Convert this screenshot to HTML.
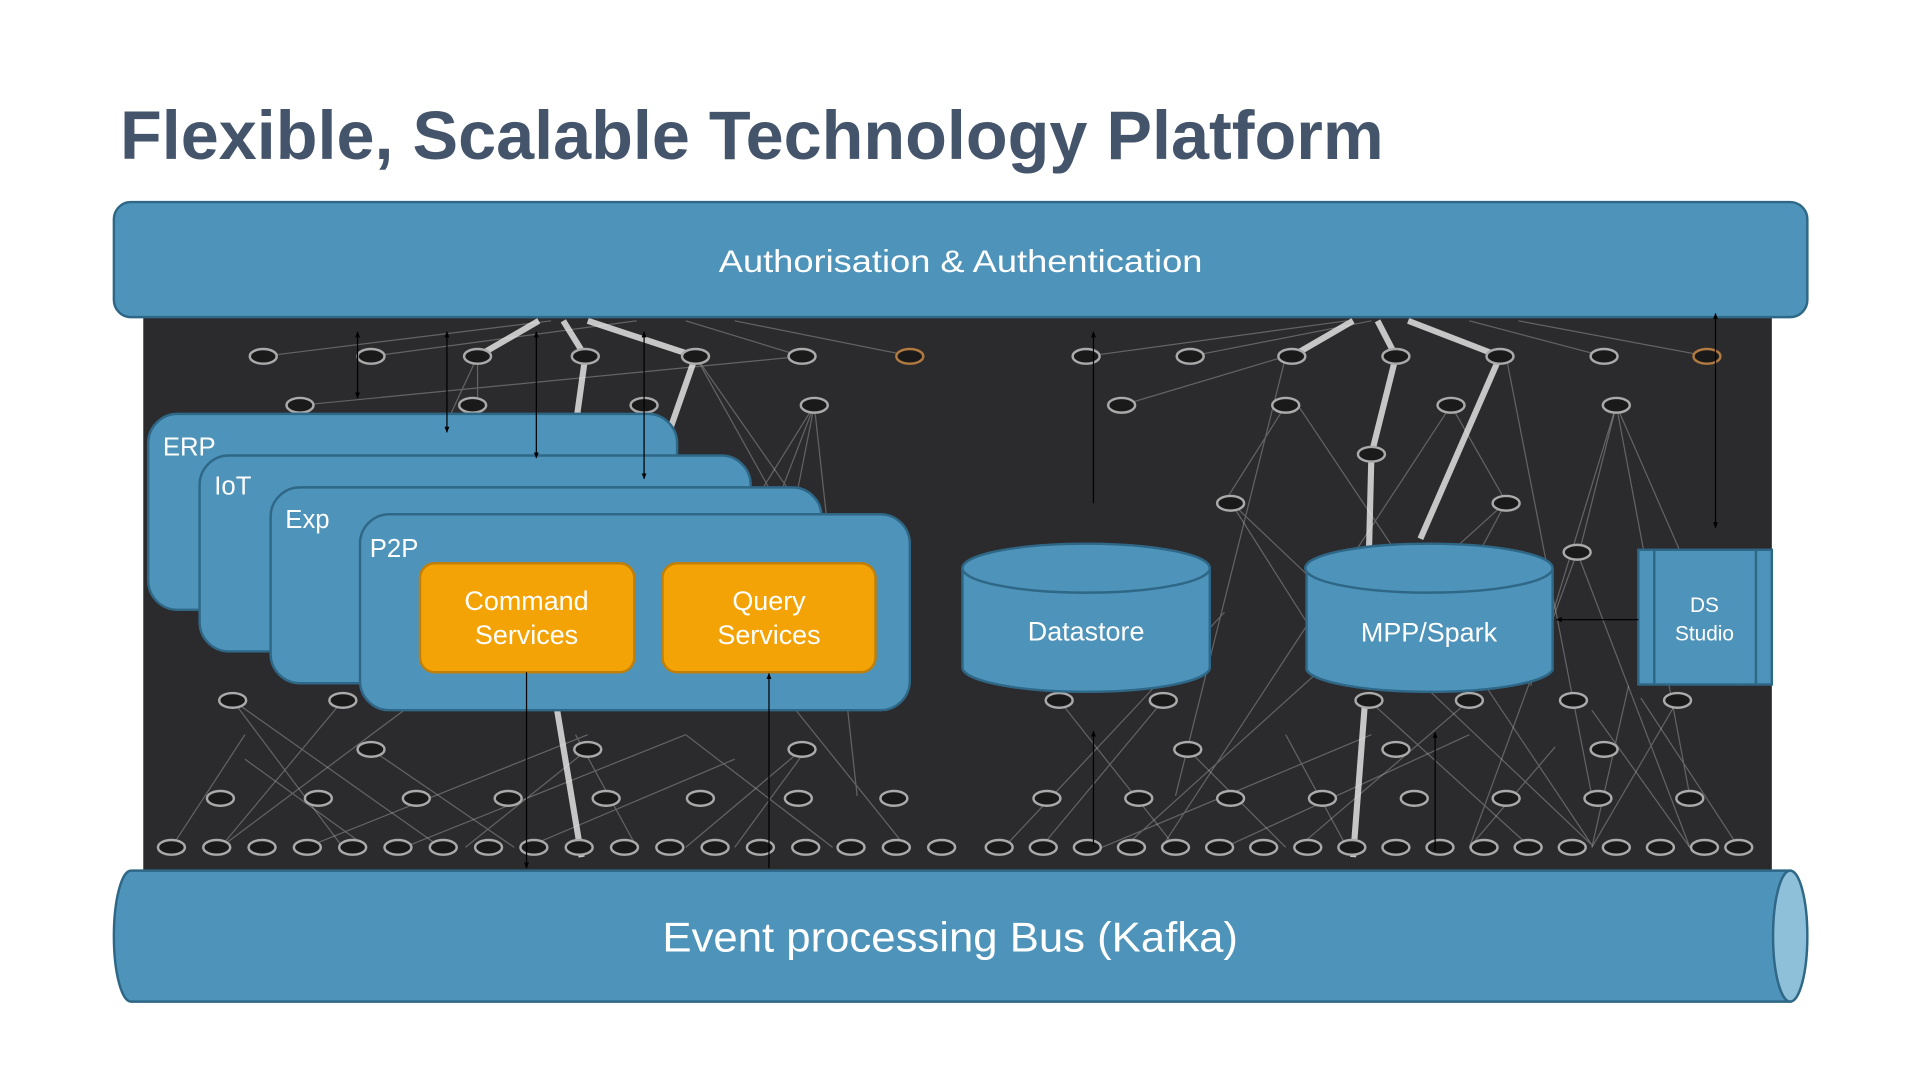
<!DOCTYPE html>
<html><head><meta charset="utf-8"><style>
html,body{margin:0;padding:0;background:#fff;width:1920px;height:1080px;overflow:hidden}
svg{display:block}
text{font-family:"Liberation Sans",sans-serif}
</style></head><body>
<svg width="1920" height="1080" viewBox="0 0 1568 882" xmlns="http://www.w3.org/2000/svg">
<defs>
<marker id="a" viewBox="0 0 10 10" refX="9" refY="5" markerWidth="5" markerHeight="5" orient="auto-start-reverse"><path d="M0,1 L10,5 L0,9 z" fill="#000"/></marker>
</defs>
<text x="98" y="130" font-size="56" font-weight="bold" fill="#44546a" textLength="1032" lengthAdjust="spacingAndGlyphs">Flexible, Scalable Technology Platform</text>

<rect x="117" y="255" width="1330" height="460" fill="#2b2a2c"/>
<g stroke="#cfcfcf" stroke-opacity="0.35" stroke-width="1" fill="none">
<path d="M215,291 L450,262 M303,291 L520,262 M655,291 L560,262 M745,291 L600,262 M245,331 L655,291 M390,291 L390,331 M390,291 L330,420 M568,291 L640,420 M665,331 L560,500 M665,331 L700,650 M180,692 L330,580 M250,692 L480,600 M330,692 L560,600 M430,692 L600,620 M520,692 L470,600 M600,692 L660,610 M680,692 L560,600 M740,692 L650,580 M140,692 L200,600 M300,692 L200,620"/>
<path d="M887,291 L1100,262 M972,291 L1120,262 M1310,291 L1200,262 M1395,291 L1240,262 M916,331 L1050,291 M1050,331 L1000,410 M1185,331 L1230,410 M1320,331 L1290,450 M1320,331 L1380,650 M1050,291 L960,650 M1230,291 L1300,650 M820,692 L1000,500 M900,692 L1120,600 M1000,692 L1200,600 M1100,692 L1050,600 M1200,692 L1270,610 M1300,692 L1330,560 M1380,692 L1300,580 M1420,692 L1340,570 M1060,331 L1300,690 M1185,331 L950,690 M1005,410 L1300,690 M1230,410 L920,690"/>
<path d="M665,331 L600,500 M665,331 L620,560 M568,291 L700,480 M190,572 L280,692 M280,572 L180,692 M303,612 L420,692 M480,612 L380,692 M655,612 L560,692 M190,572 L360,692 M1320,331 L1250,560 M1320,331 L1420,560 M1005,410 L1100,560 M1230,410 L1150,560 M1288,451 L1380,692 M1288,451 L1200,692 M865,572 L960,692 M950,572 L850,692 M1118,572 L1250,692 M1200,572 L1060,692 M1370,572 L1300,692 M970,612 L1050,692"/>
</g>
<g stroke="#eee" stroke-opacity="0.8" stroke-width="5" fill="none">
<path d="M390,291 L440,262 M478,291 L460,262 M568,291 L480,262 M478,291 L460,420 M568,291 L530,400 M455,580 L475,700"/>
<path d="M1055,291 L1105,262 M1140,291 L1125,262 M1225,291 L1150,262 M1120,371 L1140,291 M1160,440 L1225,291 M1120,371 L1118,450 M1115,570 L1105,700"/>
</g>
<g fill="#1a1a1a" stroke="#aaa" stroke-width="2">
<ellipse cx="215" cy="291" rx="11" ry="6"/><ellipse cx="303" cy="291" rx="11" ry="6"/><ellipse cx="390" cy="291" rx="11" ry="6"/><ellipse cx="478" cy="291" rx="11" ry="6"/><ellipse cx="568" cy="291" rx="11" ry="6"/><ellipse cx="655" cy="291" rx="11" ry="6"/>
<ellipse cx="245" cy="331" rx="11" ry="6"/><ellipse cx="386" cy="331" rx="11" ry="6"/><ellipse cx="526" cy="331" rx="11" ry="6"/><ellipse cx="665" cy="331" rx="11" ry="6"/>
<ellipse cx="887" cy="291" rx="11" ry="6"/><ellipse cx="972" cy="291" rx="11" ry="6"/><ellipse cx="1055" cy="291" rx="11" ry="6"/><ellipse cx="1140" cy="291" rx="11" ry="6"/><ellipse cx="1225" cy="291" rx="11" ry="6"/><ellipse cx="1310" cy="291" rx="11" ry="6"/>
<ellipse cx="916" cy="331" rx="11" ry="6"/><ellipse cx="1050" cy="331" rx="11" ry="6"/><ellipse cx="1185" cy="331" rx="11" ry="6"/><ellipse cx="1320" cy="331" rx="11" ry="6"/>
<ellipse cx="1005" cy="411" rx="11" ry="6"/><ellipse cx="1230" cy="411" rx="11" ry="6"/><ellipse cx="1120" cy="371" rx="11" ry="6"/><ellipse cx="1288" cy="451" rx="11" ry="6"/>
<ellipse cx="190" cy="572" rx="11" ry="6"/><ellipse cx="280" cy="572" rx="11" ry="6"/><ellipse cx="180" cy="652" rx="11" ry="6"/><ellipse cx="260" cy="652" rx="11" ry="6"/><ellipse cx="340" cy="652" rx="11" ry="6"/><ellipse cx="415" cy="652" rx="11" ry="6"/><ellipse cx="495" cy="652" rx="11" ry="6"/><ellipse cx="572" cy="652" rx="11" ry="6"/><ellipse cx="652" cy="652" rx="11" ry="6"/><ellipse cx="730" cy="652" rx="11" ry="6"/><ellipse cx="303" cy="612" rx="11" ry="6"/><ellipse cx="480" cy="612" rx="11" ry="6"/><ellipse cx="655" cy="612" rx="11" ry="6"/>
<ellipse cx="865" cy="572" rx="11" ry="6"/><ellipse cx="950" cy="572" rx="11" ry="6"/><ellipse cx="1118" cy="572" rx="11" ry="6"/><ellipse cx="1200" cy="572" rx="11" ry="6"/><ellipse cx="1285" cy="572" rx="11" ry="6"/><ellipse cx="1370" cy="572" rx="11" ry="6"/>
<ellipse cx="970" cy="612" rx="11" ry="6"/><ellipse cx="1140" cy="612" rx="11" ry="6"/><ellipse cx="1310" cy="612" rx="11" ry="6"/>
<ellipse cx="855" cy="652" rx="11" ry="6"/><ellipse cx="930" cy="652" rx="11" ry="6"/><ellipse cx="1005" cy="652" rx="11" ry="6"/><ellipse cx="1080" cy="652" rx="11" ry="6"/><ellipse cx="1155" cy="652" rx="11" ry="6"/><ellipse cx="1230" cy="652" rx="11" ry="6"/><ellipse cx="1305" cy="652" rx="11" ry="6"/><ellipse cx="1380" cy="652" rx="11" ry="6"/>
</g>
<g fill="#1a1a1a" stroke="#aaa" stroke-width="2">
<ellipse cx="140" cy="692" rx="11" ry="6"/><ellipse cx="177" cy="692" rx="11" ry="6"/><ellipse cx="214" cy="692" rx="11" ry="6"/><ellipse cx="251" cy="692" rx="11" ry="6"/><ellipse cx="288" cy="692" rx="11" ry="6"/><ellipse cx="325" cy="692" rx="11" ry="6"/><ellipse cx="362" cy="692" rx="11" ry="6"/><ellipse cx="399" cy="692" rx="11" ry="6"/><ellipse cx="436" cy="692" rx="11" ry="6"/><ellipse cx="473" cy="692" rx="11" ry="6"/><ellipse cx="510" cy="692" rx="11" ry="6"/><ellipse cx="547" cy="692" rx="11" ry="6"/><ellipse cx="584" cy="692" rx="11" ry="6"/><ellipse cx="621" cy="692" rx="11" ry="6"/><ellipse cx="658" cy="692" rx="11" ry="6"/><ellipse cx="695" cy="692" rx="11" ry="6"/><ellipse cx="732" cy="692" rx="11" ry="6"/><ellipse cx="769" cy="692" rx="11" ry="6"/>
<ellipse cx="816" cy="692" rx="11" ry="6"/><ellipse cx="852" cy="692" rx="11" ry="6"/><ellipse cx="888" cy="692" rx="11" ry="6"/><ellipse cx="924" cy="692" rx="11" ry="6"/><ellipse cx="960" cy="692" rx="11" ry="6"/><ellipse cx="996" cy="692" rx="11" ry="6"/><ellipse cx="1032" cy="692" rx="11" ry="6"/><ellipse cx="1068" cy="692" rx="11" ry="6"/><ellipse cx="1104" cy="692" rx="11" ry="6"/><ellipse cx="1140" cy="692" rx="11" ry="6"/><ellipse cx="1176" cy="692" rx="11" ry="6"/><ellipse cx="1212" cy="692" rx="11" ry="6"/><ellipse cx="1248" cy="692" rx="11" ry="6"/><ellipse cx="1284" cy="692" rx="11" ry="6"/><ellipse cx="1320" cy="692" rx="11" ry="6"/><ellipse cx="1356" cy="692" rx="11" ry="6"/><ellipse cx="1392" cy="692" rx="11" ry="6"/><ellipse cx="1420" cy="692" rx="11" ry="6"/>
</g>
<ellipse cx="743" cy="291" rx="11" ry="6" fill="#1a1a1a" stroke="#b07a40" stroke-width="2"/>
<ellipse cx="1394" cy="291" rx="11" ry="6" fill="#1a1a1a" stroke="#b07a40" stroke-width="2"/>

<rect x="93" y="165" width="1383" height="94" rx="14" fill="#4e93ba" stroke="#2f6787" stroke-width="2"/>
<text x="587" y="222" font-size="26" fill="#fff" textLength="395" lengthAdjust="spacingAndGlyphs">Authorisation &amp; Authentication</text>

<g stroke="#2f6787" stroke-width="2" fill="#4e93ba">
<rect x="121" y="338" width="432" height="160" rx="24"/>
<rect x="163" y="372" width="450" height="160" rx="24"/>
<rect x="221" y="398" width="450" height="160" rx="24"/>
<rect x="294" y="420" width="449" height="160" rx="24"/>
</g>
<g fill="#fff" font-size="21">
<text x="133" y="372">ERP</text><text x="175" y="404">IoT</text><text x="233" y="431">Exp</text><text x="302" y="455">P2P</text>
</g>
<rect x="343" y="460" width="175" height="89" rx="12" fill="#f3a305" stroke="#c07f08" stroke-width="2"/>
<rect x="541" y="460" width="174" height="89" rx="12" fill="#f3a305" stroke="#c07f08" stroke-width="2"/>
<g fill="#fff" font-size="22" text-anchor="middle">
<text x="430" y="498">Command</text><text x="430" y="526">Services</text>
<text x="628" y="498">Query</text><text x="628" y="526">Services</text>
</g>

<path d="M786,464 L786,545 A101,20 0 0 0 988,545 L988,464" fill="#4e93ba" stroke="#2f6787" stroke-width="2"/>
<ellipse cx="887" cy="464" rx="101" ry="20" fill="#4e93ba" stroke="#2f6787" stroke-width="2"/>
<text x="887" y="523" font-size="22" fill="#fff" text-anchor="middle">Datastore</text>
<path d="M1067,464 L1067,547 A101,20 0 0 0 1268,547 L1268,464" fill="#4e93ba" stroke="#2f6787" stroke-width="2"/>
<ellipse cx="1167" cy="464" rx="101" ry="20" fill="#4e93ba" stroke="#2f6787" stroke-width="2"/>
<text x="1167" y="524" font-size="22" fill="#fff" text-anchor="middle">MPP/Spark</text>
<rect x="1338" y="449" width="109" height="110" fill="#4e93ba" stroke="#2f6787" stroke-width="2"/>
<line x1="1351" y1="449" x2="1351" y2="559" stroke="#2f6787" stroke-width="2"/>
<line x1="1434" y1="449" x2="1434" y2="559" stroke="#2f6787" stroke-width="2"/>
<g fill="#fff" font-size="17" text-anchor="middle"><text x="1392" y="500">DS</text><text x="1392" y="523">Studio</text></g>

<path d="M107,711 L1462,711 L1462,818 L107,818 A14,53.5 0 0 1 107,711 z" fill="#4e93ba" stroke="#2f6787" stroke-width="2"/>
<ellipse cx="1462" cy="764.5" rx="14" ry="53.5" fill="#8fc0da" stroke="#2f6787" stroke-width="2"/>
<text x="541" y="777" font-size="34" fill="#fff" textLength="470" lengthAdjust="spacingAndGlyphs">Event processing Bus (Kafka)</text>

<g stroke="#000" stroke-width="1" fill="none">
<line x1="292" y1="271" x2="292" y2="325" marker-start="url(#a)" marker-end="url(#a)"/>
<line x1="365" y1="271" x2="365" y2="353" marker-start="url(#a)" marker-end="url(#a)"/>
<line x1="438" y1="271" x2="438" y2="374" marker-start="url(#a)" marker-end="url(#a)"/>
<line x1="526" y1="271" x2="526" y2="391" marker-start="url(#a)" marker-end="url(#a)"/>
<line x1="893" y1="411" x2="893" y2="271" marker-end="url(#a)"/>
<line x1="1401" y1="256" x2="1401" y2="431" marker-start="url(#a)" marker-end="url(#a)"/>
<line x1="430" y1="549" x2="430" y2="709" marker-end="url(#a)"/>
<line x1="628" y1="709" x2="628" y2="550" marker-end="url(#a)"/>
<line x1="893" y1="690" x2="893" y2="597" marker-end="url(#a)"/>
<line x1="1172" y1="695" x2="1172" y2="598" marker-end="url(#a)"/>
<line x1="1338" y1="506" x2="1271" y2="506" marker-end="url(#a)"/>
</g>
</svg>
</body></html>
